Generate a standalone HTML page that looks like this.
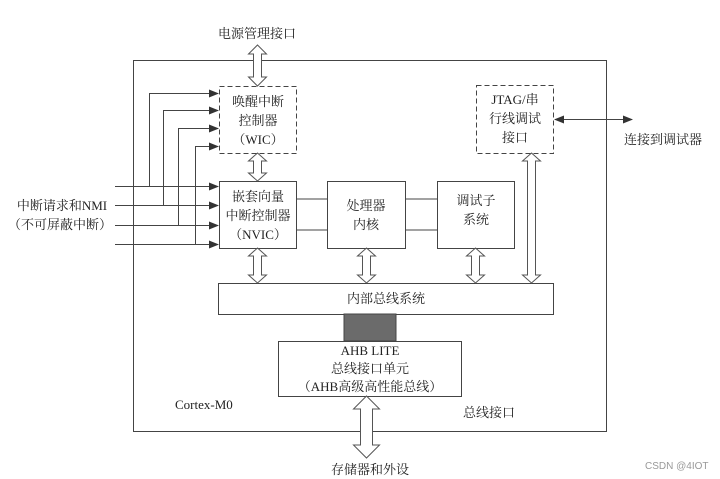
<!DOCTYPE html>
<html><head><meta charset="utf-8"><style>
html,body{margin:0;padding:0;background:#fff;}
svg{display:block}
text{font-family:"Liberation Serif","Noto Serif CJK SC","Noto Sans CJK SC",serif;fill:#222;font-size:13px}
</style></head><body>
<svg width="720" height="479" viewBox="0 0 720 479" xmlns="http://www.w3.org/2000/svg">
<defs>
<marker id="ah" markerWidth="10" markerHeight="8" refX="9" refY="4" orient="auto" markerUnits="userSpaceOnUse"><path d="M0,0 L10,4 L0,8 z" fill="#333"/></marker>
<marker id="ahs" markerWidth="10" markerHeight="8" refX="1" refY="4" orient="auto" markerUnits="userSpaceOnUse"><path d="M10,0 L0,4 L10,8 z" fill="#333"/></marker>
</defs>
<g stroke="#444" stroke-width="1" fill="none">
<rect x="133.5" y="60.5" width="473" height="371"/>
<rect x="219.5" y="86.5" width="77" height="67" stroke-dasharray="5,3"/>
<rect x="476.5" y="85.5" width="77" height="68" stroke-dasharray="5,3"/>
<rect x="219.5" y="181.5" width="77" height="67" fill="#fff"/>
<rect x="327.5" y="181.5" width="78" height="67"/>
<rect x="437.5" y="181.5" width="77" height="67"/>
<rect x="218.5" y="283.5" width="335" height="31"/>
<rect x="278.5" y="341.5" width="183" height="55"/>
<line x1="296" y1="199" x2="327" y2="199"/><line x1="296" y1="230" x2="327" y2="230"/>
<line x1="405" y1="199" x2="437" y2="199"/><line x1="405" y1="230" x2="437" y2="230"/>
</g>
<rect x="344" y="314" width="52" height="27" fill="#6b6b6b" stroke="#444"/>
<!-- interrupt lines -->
<g stroke="#444" stroke-width="1" fill="none">
<line x1="115" y1="186.5" x2="218" y2="186.5" marker-end="url(#ah)"/>
<line x1="115" y1="205.5" x2="218" y2="205.5" marker-end="url(#ah)"/>
<line x1="115" y1="225.5" x2="218" y2="225.5" marker-end="url(#ah)"/>
<line x1="115" y1="244.5" x2="218" y2="244.5" marker-end="url(#ah)"/>
<polyline points="149.5,186 149.5,93.5 218,93.5" marker-end="url(#ah)"/>
<polyline points="163.5,205 163.5,110.5 218,110.5" marker-end="url(#ah)"/>
<polyline points="178.5,225 178.5,128.5 218,128.5" marker-end="url(#ah)"/>
<polyline points="195.5,244 195.5,146.5 218,146.5" marker-end="url(#ah)"/>
<line x1="555" y1="119.5" x2="632" y2="119.5" marker-start="url(#ahs)" marker-end="url(#ah)"/>
</g>
<!-- hollow double arrows -->
<g stroke="#555" stroke-width="1" fill="#fff">
<path d="M257.5,45 L266.5,54 L261.5,54 L261.5,77 L266.5,77 L257.5,86 L248.5,77 L253.5,77 L253.5,54 L248.5,54 Z"/>
<path d="M257.5,153 L266.5,161 L261.5,161 L261.5,173 L266.5,173 L257.5,181 L248.5,173 L253.5,173 L253.5,161 L248.5,161 Z"/>
<path d="M257.5,248 L266.5,256 L261.5,256 L261.5,275 L266.5,275 L257.5,283 L248.5,275 L253.5,275 L253.5,256 L248.5,256 Z"/>
<path d="M366.5,248 L375.5,256 L370.5,256 L370.5,275 L375.5,275 L366.5,283 L357.5,275 L362.5,275 L362.5,256 L357.5,256 Z"/>
<path d="M475.5,248 L484.5,256 L479.5,256 L479.5,275 L484.5,275 L475.5,283 L466.5,275 L471.5,275 L471.5,256 L466.5,256 Z"/>
<path d="M531.5,153 L540.5,161 L535.5,161 L535.5,275 L540.5,275 L531.5,283 L522.5,275 L527.5,275 L527.5,161 L522.5,161 Z"/>
<path d="M366.5,396 L379.5,409 L372.5,409 L372.5,445 L379.5,445 L366.5,458 L353.5,445 L360.5,445 L360.5,409 L353.5,409 Z"/>
</g>
<!-- texts -->
<text x="257" y="38" text-anchor="middle">电源管理接口</text>
<text x="258" y="106" text-anchor="middle">唤醒中断</text>
<text x="258" y="125" text-anchor="middle">控制器</text>
<text x="258" y="144" text-anchor="middle">（WIC）</text>
<text x="258" y="201" text-anchor="middle">嵌套向量</text>
<text x="258" y="220" text-anchor="middle">中断控制器</text>
<text x="258" y="239" text-anchor="middle">（NVIC）</text>
<text x="366" y="210" text-anchor="middle">处理器</text>
<text x="366" y="229" text-anchor="middle">内核</text>
<text x="476" y="205" text-anchor="middle">调试子</text>
<text x="476" y="224" text-anchor="middle">系统</text>
<text x="515" y="104" text-anchor="middle">JTAG/串</text>
<text x="515" y="123" text-anchor="middle">行线调试</text>
<text x="515" y="142" text-anchor="middle">接口</text>
<text x="386" y="303" text-anchor="middle">内部总线系统</text>
<text x="370" y="355" text-anchor="middle">AHB LITE</text>
<text x="370" y="373" text-anchor="middle">总线接口单元</text>
<text x="370" y="391" text-anchor="middle">（AHB高级高性能总线）</text>
<text x="62" y="210" text-anchor="middle">中断请求和NMI</text>
<text x="60" y="229" text-anchor="middle">（不可屏蔽中断）</text>
<text x="663" y="144" text-anchor="middle">连接到调试器</text>
<text x="175" y="409">Cortex-M0</text>
<text x="463" y="417">总线接口</text>
<text x="370" y="474" text-anchor="middle">存储器和外设</text>
<text x="645" y="469" style="font-family:'Liberation Sans',sans-serif;font-size:10px;fill:#999">CSDN @4IOT</text>
</svg>
</body></html>
